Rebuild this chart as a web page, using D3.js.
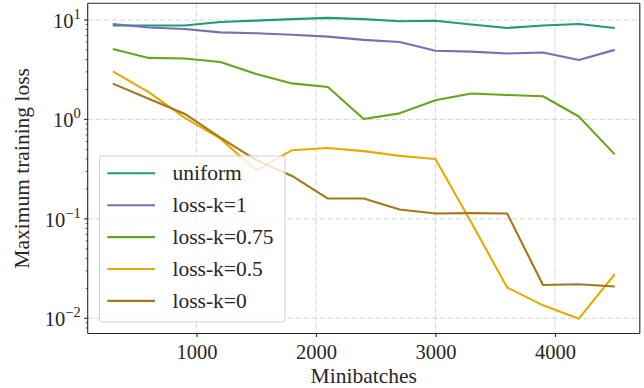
<!DOCTYPE html>
<html>
<head>
<meta charset="utf-8">
<script src="https://cdn.jsdelivr.net/npm/d3@7"></script>
<style>
  @font-face { font-family: "PlotSerif"; src: local("Liberation Serif"), local("LiberationSerif"), local("Tinos"), local("FreeSerif"); }
</style>
</head>
<body style="margin:0; background:#fff">
<div id="app"></div>
<script>
// Data
let minibatches = [300, 600, 900, 1200, 1500, 1800, 2100, 2400, 2700, 3000, 3300, 3600, 3900, 4200, 4500]
let uniform  = [8.8, 8.8, 8.8, 9.55, 9.85, 10.2, 10.5, 10.2, 9.7, 9.8, 9.0, 8.3, 8.8, 9.1, 8.3]
let lossK1   = [9.1, 8.4, 8.1, 7.5, 7.35, 7.1, 6.8, 6.3, 6.0, 4.9, 4.8, 4.6, 4.7, 3.96, 5.0]
let lossK075 = [5.1, 4.15, 4.1, 3.78, 2.86, 2.3, 2.12, 1.01, 1.15, 1.56, 1.82, 1.76, 1.71, 1.07, 0.445]
let lossK05  = [3.04, 1.88, 1.04, 0.64, 0.307, 0.49, 0.515, 0.48, 0.43, 0.40, 0.092, 0.0204, 0.0135, 0.0099, 0.0277]
let lossK0   = [2.29, 1.61, 1.14, 0.655, 0.39, 0.27, 0.16, 0.16, 0.124, 0.113, 0.114, 0.113, 0.0216, 0.022, 0.0209]

let seriesNames = ["uniform", "loss-k=1", "loss-k=0.75", "loss-k=0.5", "loss-k=0"]
let seriesValues = [uniform, lossK1, lossK075, lossK05, lossK0]
let seriesColors = ["#1b9e77", "#7570b3", "#66a61e", "#e6ab02", "#a6761d"]

let xTicks = [1000, 2000, 3000, 4000]
let yTicks = [1e-2, 1e-1, 1e0, 1e1]
let yExps = ["−2", "−1", "0", "1"]

let width = 644
let height = 388
let plot = {left: 87.7, right: 639.8, top: 3.3, bottom: 333.5}
let serif = "'Liberation Serif', PlotSerif, Tinos, 'Times New Roman', FreeSerif"
let ink = "#262626"

let svg = d3.select("#app").append("svg")
    .attr("width", width)
    .attr("height", height)
    .attr("font-family", serif)
    .style("display", "block")
    .style("font-family", serif)

let x = d3.scaleLinear().domain([90, 4710]).range([plot.left, plot.right])
let y = d3.scaleLog().domain([0.00703, 14.7]).range([plot.bottom, plot.top])

// grid
let grid = svg.append("g")
    .attr("stroke", "#d4d4d4")
    .attr("stroke-width", 1)
    .attr("stroke-dasharray", "5.5,2.5")
grid.selectAll(".gx").data(xTicks).enter().append("line")
    .attr("x1", d => x(d)).attr("x2", d => x(d))
    .attr("y1", plot.top).attr("y2", plot.bottom)
grid.selectAll(".gy").data(yTicks).enter().append("line")
    .attr("x1", plot.left).attr("x2", plot.right)
    .attr("y1", d => y(d)).attr("y2", d => y(d))

// series lines
let line = d3.line()
    .x((d, i) => x(minibatches[i]))
    .y(d => y(d))

svg.append("g").selectAll("path")
    .data(seriesValues)
    .enter().append("path")
    .attr("d", line)
    .attr("fill", "none")
    .attr("stroke", (d, i) => seriesColors[i])
    .attr("stroke-width", 2.1)
    .attr("stroke-linejoin", "round")

// axes
let xAxis = d3.axisBottom(x).tickValues(xTicks).tickSize(3.5).tickFormat(d3.format("d"))
let gx = svg.append("g")
    .attr("transform", "translate(0," + plot.bottom + ")")
    .call(xAxis)
    .attr("font-family", serif)
gx.select(".domain").remove()
gx.selectAll("line").attr("stroke", ink).attr("stroke-width", 1.1)
gx.selectAll("text")
    .attr("y", 11)
    .attr("dy", "0.71em")
    .attr("fill", ink)
    .attr("font-family", serif)
    .style("font-family", serif)
    .style("font-size", "20.5px")

// log minor ticks
let minor = []
for (let e = -3; e <= 1; e++) {
    for (let m = 2; m <= 9; m++) {
        let v = m * Math.pow(10, e)
        if (v >= y.domain()[0] && v <= y.domain()[1]) minor.push(v)
    }
}
svg.append("g").selectAll("line")
    .data(minor)
    .enter().append("line")
    .attr("x1", plot.left - 2).attr("x2", plot.left)
    .attr("y1", d => y(d)).attr("y2", d => y(d))
    .attr("stroke", ink).attr("stroke-width", 0.8)

svg.append("g").selectAll("line")
    .data(yTicks)
    .enter().append("line")
    .attr("x1", plot.left - 3.5).attr("x2", plot.left)
    .attr("y1", d => y(d)).attr("y2", d => y(d))
    .attr("stroke", ink).attr("stroke-width", 1.1)

let ylab = svg.append("g").selectAll("text")
    .data(yTicks)
    .enter().append("text")
    .attr("x", plot.left - 7)
    .attr("y", d => y(d) + 8)
    .attr("text-anchor", "end")
    .attr("fill", ink)
    .style("font-family", serif)
    .style("font-size", "20.5px")
ylab.append("tspan").text("10")
ylab.append("tspan")
    .attr("dy", -9)
    .style("font-size", "14.5px")
    .text((d, i) => yExps[i])

// spines
let spines = svg.append("g").attr("stroke", ink).attr("stroke-width", 1.1)
spines.append("line").attr("x1", plot.left).attr("x2", plot.left).attr("y1", plot.top).attr("y2", plot.bottom)
spines.append("line").attr("x1", plot.right).attr("x2", plot.right).attr("y1", plot.top).attr("y2", plot.bottom)
spines.append("line").attr("x1", plot.left).attr("x2", plot.right).attr("y1", plot.top).attr("y2", plot.top)
spines.append("line").attr("x1", plot.left).attr("x2", plot.right).attr("y1", plot.bottom).attr("y2", plot.bottom)

// axis titles
svg.append("text")
    .attr("x", (plot.left + plot.right) / 2)
    .attr("y", 383)
    .attr("text-anchor", "middle")
    .attr("fill", ink)
    .style("font-family", serif)
    .style("font-size", "21.5px")
    .text("Minibatches")

svg.append("text")
    .attr("transform", "translate(29," + ((plot.top + plot.bottom) / 2) + ") rotate(-90)")
    .attr("text-anchor", "middle")
    .attr("fill", ink)
    .style("font-family", serif)
    .style("font-size", "21.5px")
    .text("Maximum training loss")

// legend
let legend = svg.append("g")
legend.append("rect")
    .attr("x", 99.5).attr("y", 156)
    .attr("width", 185.5).attr("height", 166)
    .attr("rx", 3)
    .attr("fill", "#fff").attr("fill-opacity", 0.8)
    .attr("stroke", "#d0d0d0").attr("stroke-width", 1)

let entries = legend.selectAll(".entry")
    .data(seriesNames)
    .enter().append("g")
    .attr("class", "entry")
    .attr("transform", (d, i) => "translate(0," + (173.3 + i * 31.9) + ")")
entries.append("line")
    .attr("x1", 107.3).attr("x2", 155)
    .attr("stroke", (d, i) => seriesColors[i])
    .attr("stroke-width", 2.1)
entries.append("text")
    .attr("x", 172.5)
    .attr("dy", "0.33em")
    .attr("fill", ink)
    .style("font-family", serif)
    .style("font-size", "21.5px")
    .text(d => d)
</script>
</body>
</html>
